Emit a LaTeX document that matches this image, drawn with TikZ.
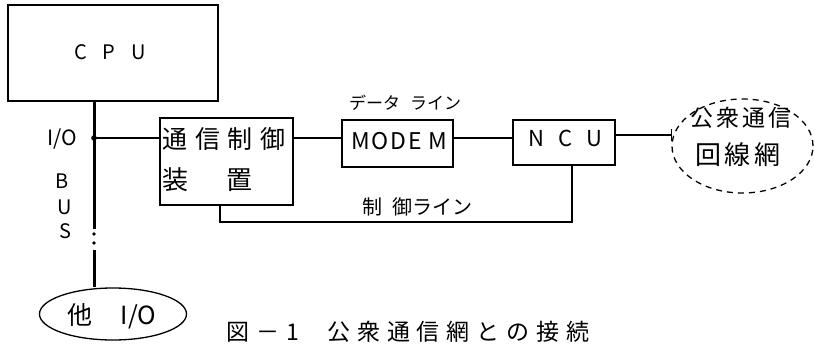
\documentclass[tikz,border=0pt]{standalone}
\usepackage{fontspec}
\setmainfont{Noto Sans CJK JP}
\newfontfamily\jp{Noto Sans CJK JP}
\newfontfamily\jpw[LetterSpace=30]{Noto Sans CJK JP}
\newfontfamily\jpm[LetterSpace=12]{Noto Sans CJK JP}
\newfontfamily\jpc[LetterSpace=30]{Noto Sans CJK JP}
\usetikzlibrary{shapes.geometric}
\begin{document}
\begin{tikzpicture}[x=1pt,y=-1pt,line width=1.3pt,
  boxnode/.style={draw,rectangle,inner sep=0pt},
  txt/.style={inner sep=0pt},
  bus/.style={line width=3pt}]
\useasboundingbox (0,0) rectangle (814,343);
% boxes
\node[boxnode,minimum width=210pt,minimum height=96pt] (cpu) at (113,53) {};
\node[boxnode,minimum width=133pt,minimum height=87pt] (ctl) at (226.5,161.5) {};
\node[boxnode,minimum width=111pt,minimum height=47pt] (modem) at (397.5,143.5) {};
\node[boxnode,minimum width=102pt,minimum height=45pt] (ncu) at (564,142.5) {};
\node[draw,ellipse,dashed,dash pattern=on 6pt off 5pt,minimum width=141pt,minimum height=94pt,inner sep=0pt] (net) at (742.5,146) {};
\node[draw,ellipse,minimum width=147pt,minimum height=52pt,inner sep=0pt] (other) at (113,314) {};
% texts
\node[txt,font=\fontsize{20}{22}\selectfont] (cput) at (110,52) {C\hspace{16pt}P\hspace{16pt}U};
\node[txt,anchor=west,font=\fontsize{25}{27}\selectfont\jpw] (ctlt1) at (162,139) {通信制御};
\node[txt,anchor=west,font=\fontsize{26}{28}\selectfont] (ctlt2) at (162,180) {装\hspace{38pt}置};
\node[txt,font=\fontsize{23}{25}\selectfont] (modemt) at (399,141) {M\hspace{2pt}O\hspace{2pt}D\hspace{2pt}E\hspace{6pt}M};
\node[txt,font=\fontsize{22}{24}\selectfont] (ncut) at (565,138) {N\hspace{14pt}C\hspace{14pt}U};
\node[txt,font=\fontsize{23}{25}\selectfont\jpm] (nett1) at (741,118) {公衆通信};
\node[txt,font=\fontsize{26}{28}\selectfont\jpm] (nett2) at (738,155) {回線網};
\node[txt,font=\fontsize{25}{27}\selectfont] (othert) at (112,316) {他\hspace{28pt}I/O};
\node[txt,font=\fontsize{17}{19}\selectfont] (datat) at (405,103) {データ\hspace{10pt}ライン};
\node[txt,font=\fontsize{20}{22}\selectfont] (ctrlt) at (417,207) {制\hspace{10pt}御ライン};
\node[txt,font=\fontsize{21}{23}\selectfont] (iot) at (62,139) {I/O};
\node[txt,font=\fontsize{20}{22}\selectfont] (bt) at (62,181) {B};
\node[txt,font=\fontsize{20}{22}\selectfont] (ut) at (65,207) {U};
\node[txt,font=\fontsize{20}{22}\selectfont] (st) at (65,231) {S};
\node[txt,anchor=base west,font=\fontsize{23}{25}\selectfont\jpc] (cap) at (226,340) {図－1\hspace{28pt}公衆通信網との接続};
% bus
\coordinate (j) at (94,138);
\coordinate (bm) at (94,229);
\coordinate (bl) at (94,250);
\draw[bus] (cpu.south -| j) -- (bm);
\fill (94,234) circle (1.8pt);
\fill (94,243) circle (1.8pt);
\draw[bus] (bl) -- (other.north -| j);
\fill (j) circle (2.8pt);
% connectors
\draw (j) -- (ctl.west |- j);
\draw (ctl.east |- j) -- (modem.west |- j);
\draw (modem.east |- j) -- (ncu.west |- j);
\coordinate (nl) at (0,135);
\draw (ncu.east |- nl) -- (net.west |- nl);
\draw (net.west |- nl) ++(0,-6) -- ++(0,12);
\coordinate (c1) at (220,222);
\coordinate (c2) at (572,222);
\draw (ctl.south -| c1) -- (c1) -- (c2) -- (ncu.south -| c2);
\end{tikzpicture}
\end{document}
